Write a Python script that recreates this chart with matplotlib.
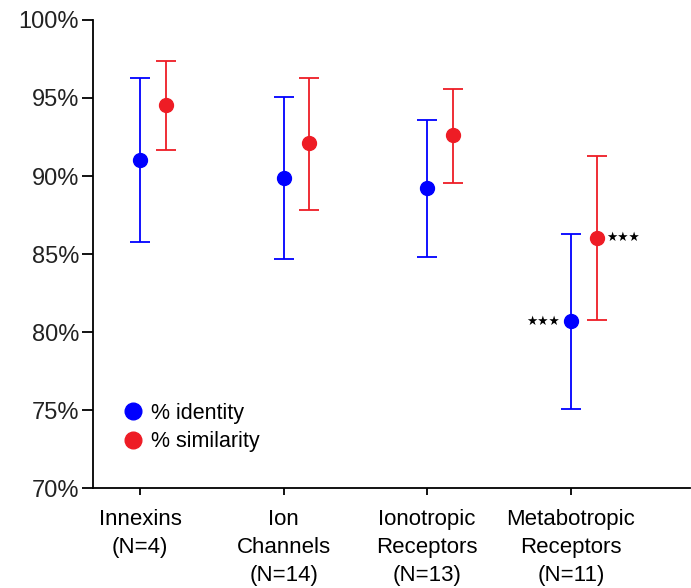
import matplotlib
matplotlib.use("Agg")
import matplotlib.pyplot as plt
import numpy as np
from matplotlib.lines import Line2D

categories = ["Innexins\n(N=4)", "Ion\nChannels\n(N=14)", "Ionotropic\nReceptors\n(N=13)", "Metabotropic\nReceptors\n(N=11)"]
identity_mean = [91.0, 89.9, 89.2, 80.7]
identity_low = [85.75, 84.7, 84.8, 75.05]
identity_high = [96.3, 95.05, 93.6, 86.3]
similarity_mean = [94.55, 92.1, 92.6, 86.05]
similarity_low = [91.65, 87.8, 89.55, 80.8]
similarity_high = [97.4, 96.3, 95.6, 91.3]
yticks = [70, 75, 80, 85, 90, 95, 100]

plt.rcParams['font.family'] = ['Liberation Sans', 'DejaVu Sans']

fig = plt.figure(figsize=(6.91, 5.88), dpi=100)
ax = fig.add_axes([0.1346, 0.170, 0.864, 0.796])

x = np.arange(len(categories))
off = 0.18
blue = "#0000FF"
red = "#EE1C25"

im = np.array(identity_mean)
sm = np.array(similarity_mean)
ax.errorbar(x, im, yerr=[im - np.array(identity_low), np.array(identity_high) - im],
            fmt='o', color=blue, ms=10, elinewidth=1.3, capsize=7, capthick=1.3,
            label="% identity", zorder=3)
ax.errorbar(x + off, sm, yerr=[sm - np.array(similarity_low), np.array(similarity_high) - sm],
            fmt='o', color=red, ms=10, elinewidth=1.3, capsize=7, capthick=1.3,
            label="% similarity", zorder=3)

ax.annotate("★★★", (x[3], im[3]), xytext=(-8, 0), textcoords='offset points',
            ha='right', va='center', fontsize=9, family='DejaVu Sans')
ax.annotate("★★★", (x[3] + off, sm[3]), xytext=(6.5, 0), textcoords='offset points',
            ha='left', va='center', fontsize=9, family='DejaVu Sans')

ax.set_xlim(-0.327, 3.83)
ax.set_ylim(70, 100)
ax.set_yticks(yticks)
ax.set_yticklabels([f"{v}%" for v in yticks], fontsize=17, color="#222222")
ax.set_xticks(x)
ax.set_xticklabels(categories, fontsize=16, linespacing=1.45, va='top')
ax.tick_params(axis='y', length=8, width=1.3, pad=2)
ax.tick_params(axis='x', length=5, width=1.3, pad=10)
for s in ['top', 'right']:
    ax.spines[s].set_visible(False)
for s in ['left', 'bottom']:
    ax.spines[s].set_linewidth(1.3)

h = [Line2D([], [], marker='o', ls='', color=blue, ms=12),
     Line2D([], [], marker='o', ls='', color=red, ms=12)]
ax.legend(h, ["% identity", "% similarity"], loc='lower left', bbox_to_anchor=(0.007, 0.035),
          frameon=False, fontsize=15.5, handletextpad=0.1, labelspacing=0.35, handlelength=1.5)

fig.savefig("out.png", dpi=100)
